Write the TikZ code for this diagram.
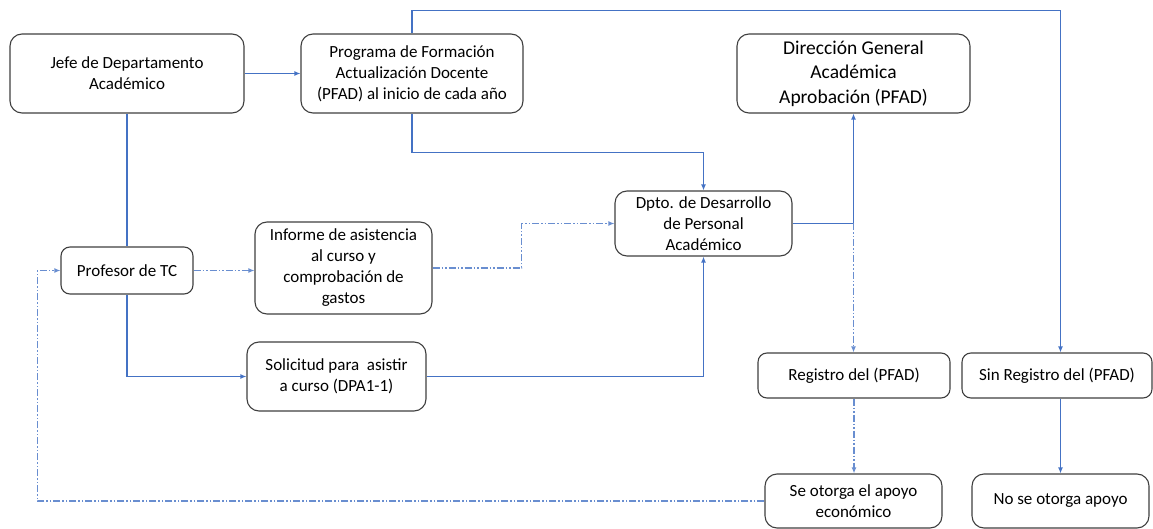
\documentclass[tikz,border=0pt]{standalone}
\usepackage{fontspec}
\setmainfont{Carlito}
\usetikzlibrary{arrows.meta}
\definecolor{lineblue}{HTML}{4472C4}
\definecolor{boxgray}{HTML}{3F3F3F}
\begin{document}
\begin{tikzpicture}[x=1pt,y=-1pt,
  box/.style={draw=boxgray, line width=1.1pt, rounded corners=12pt, align=center,
    inner sep=2pt, font=\fontsize{17}{21}\selectfont, text=black},
  conn/.style={draw=lineblue, line width=1.25pt, -{Latex[length=6pt,width=5pt]}},
  plain/.style={draw=lineblue, line width=1.25pt},
  dd/.style={draw=lineblue!80, line width=1.25pt, dash pattern=on 7pt off 2pt on 1.5pt off 2pt on 1.5pt off 2pt, -{Latex[length=6pt,width=5pt]}}]
\useasboundingbox (0,0) rectangle (1153,529);

\node[box, minimum width=234pt, minimum height=79pt] (jefe) at (127,73.5) {Jefe de Departamento\\Académico};
\node[box, minimum width=222pt, minimum height=79pt] (prog) at (412,73.5) {Programa de Formación\\Actualización Docente\\(PFAD) al inicio de cada año};
\node[box, minimum width=233pt, minimum height=79pt, font=\fontsize{19.5}{24.5}\selectfont] (dir) at (853.5,73.5) {Dirección General\\Académica\\Aprobación (PFAD)};
\node[box, minimum width=177pt, minimum height=65pt] (dpto) at (703.5,223.5) {Dpto. de Desarrollo\\de Personal\\Académico};
\node[box, minimum width=132pt, minimum height=47pt, rounded corners=9pt] (prof) at (127,270.5) {Profesor de TC};
\node[box, minimum width=177pt, minimum height=92pt] (inf) at (343.5,268) {Informe de asistencia\\al curso y\\comprobación de\\gastos};
\node[box, minimum width=179pt, minimum height=69pt] (sol) at (336.5,376.5) {Solicitud para\ \ asistir\\a curso (DPA1-1)};
\node[box, minimum width=192pt, minimum height=45pt, rounded corners=9pt] (reg) at (854,375.5) {Registro del (PFAD)};
\node[box, minimum width=190pt, minimum height=45pt, rounded corners=9pt] (sinr) at (1057,375.5) {Sin Registro del (PFAD)};
\node[box, minimum width=177pt, minimum height=54pt] (seo) at (853.5,501) {Se otorga el apoyo\\económico};
\node[box, minimum width=177pt, minimum height=54pt] (noo) at (1060.5,501) {No se otorga apoyo};

\draw[conn] (jefe.east) -- (prog.west);
\draw[conn] (prog.north) -- ++(0,-23) -| (noo.north |- sinr.north);
\draw[conn] (prog.south) -- ++(0,39) -| (dpto.north);
\draw[plain] (jefe.south) -- (prof.north);
\draw[conn] (prof.south) |- (sol.west);
\draw[conn] (sol.east) -| (dpto.south);
\draw[dd] (prof.east) -- (prof.east -| inf.west);
\draw[dd] (inf.east) -- ++(89,0) |- (dpto.west);
\draw[conn] (dpto.east) -| (dir.south);
\coordinate (junc) at (dir.south |- dpto.east);
\draw[dd] (junc) -- (junc |- reg.north);
\draw[dd] (reg.south) -- (reg.south |- seo.north);
\draw[conn] (noo.north |- sinr.south) -- (noo.north);
\draw[dd] (seo.west) -| ([xshift=-23pt]prof.west) -- (prof.west);
\end{tikzpicture}
\end{document}
